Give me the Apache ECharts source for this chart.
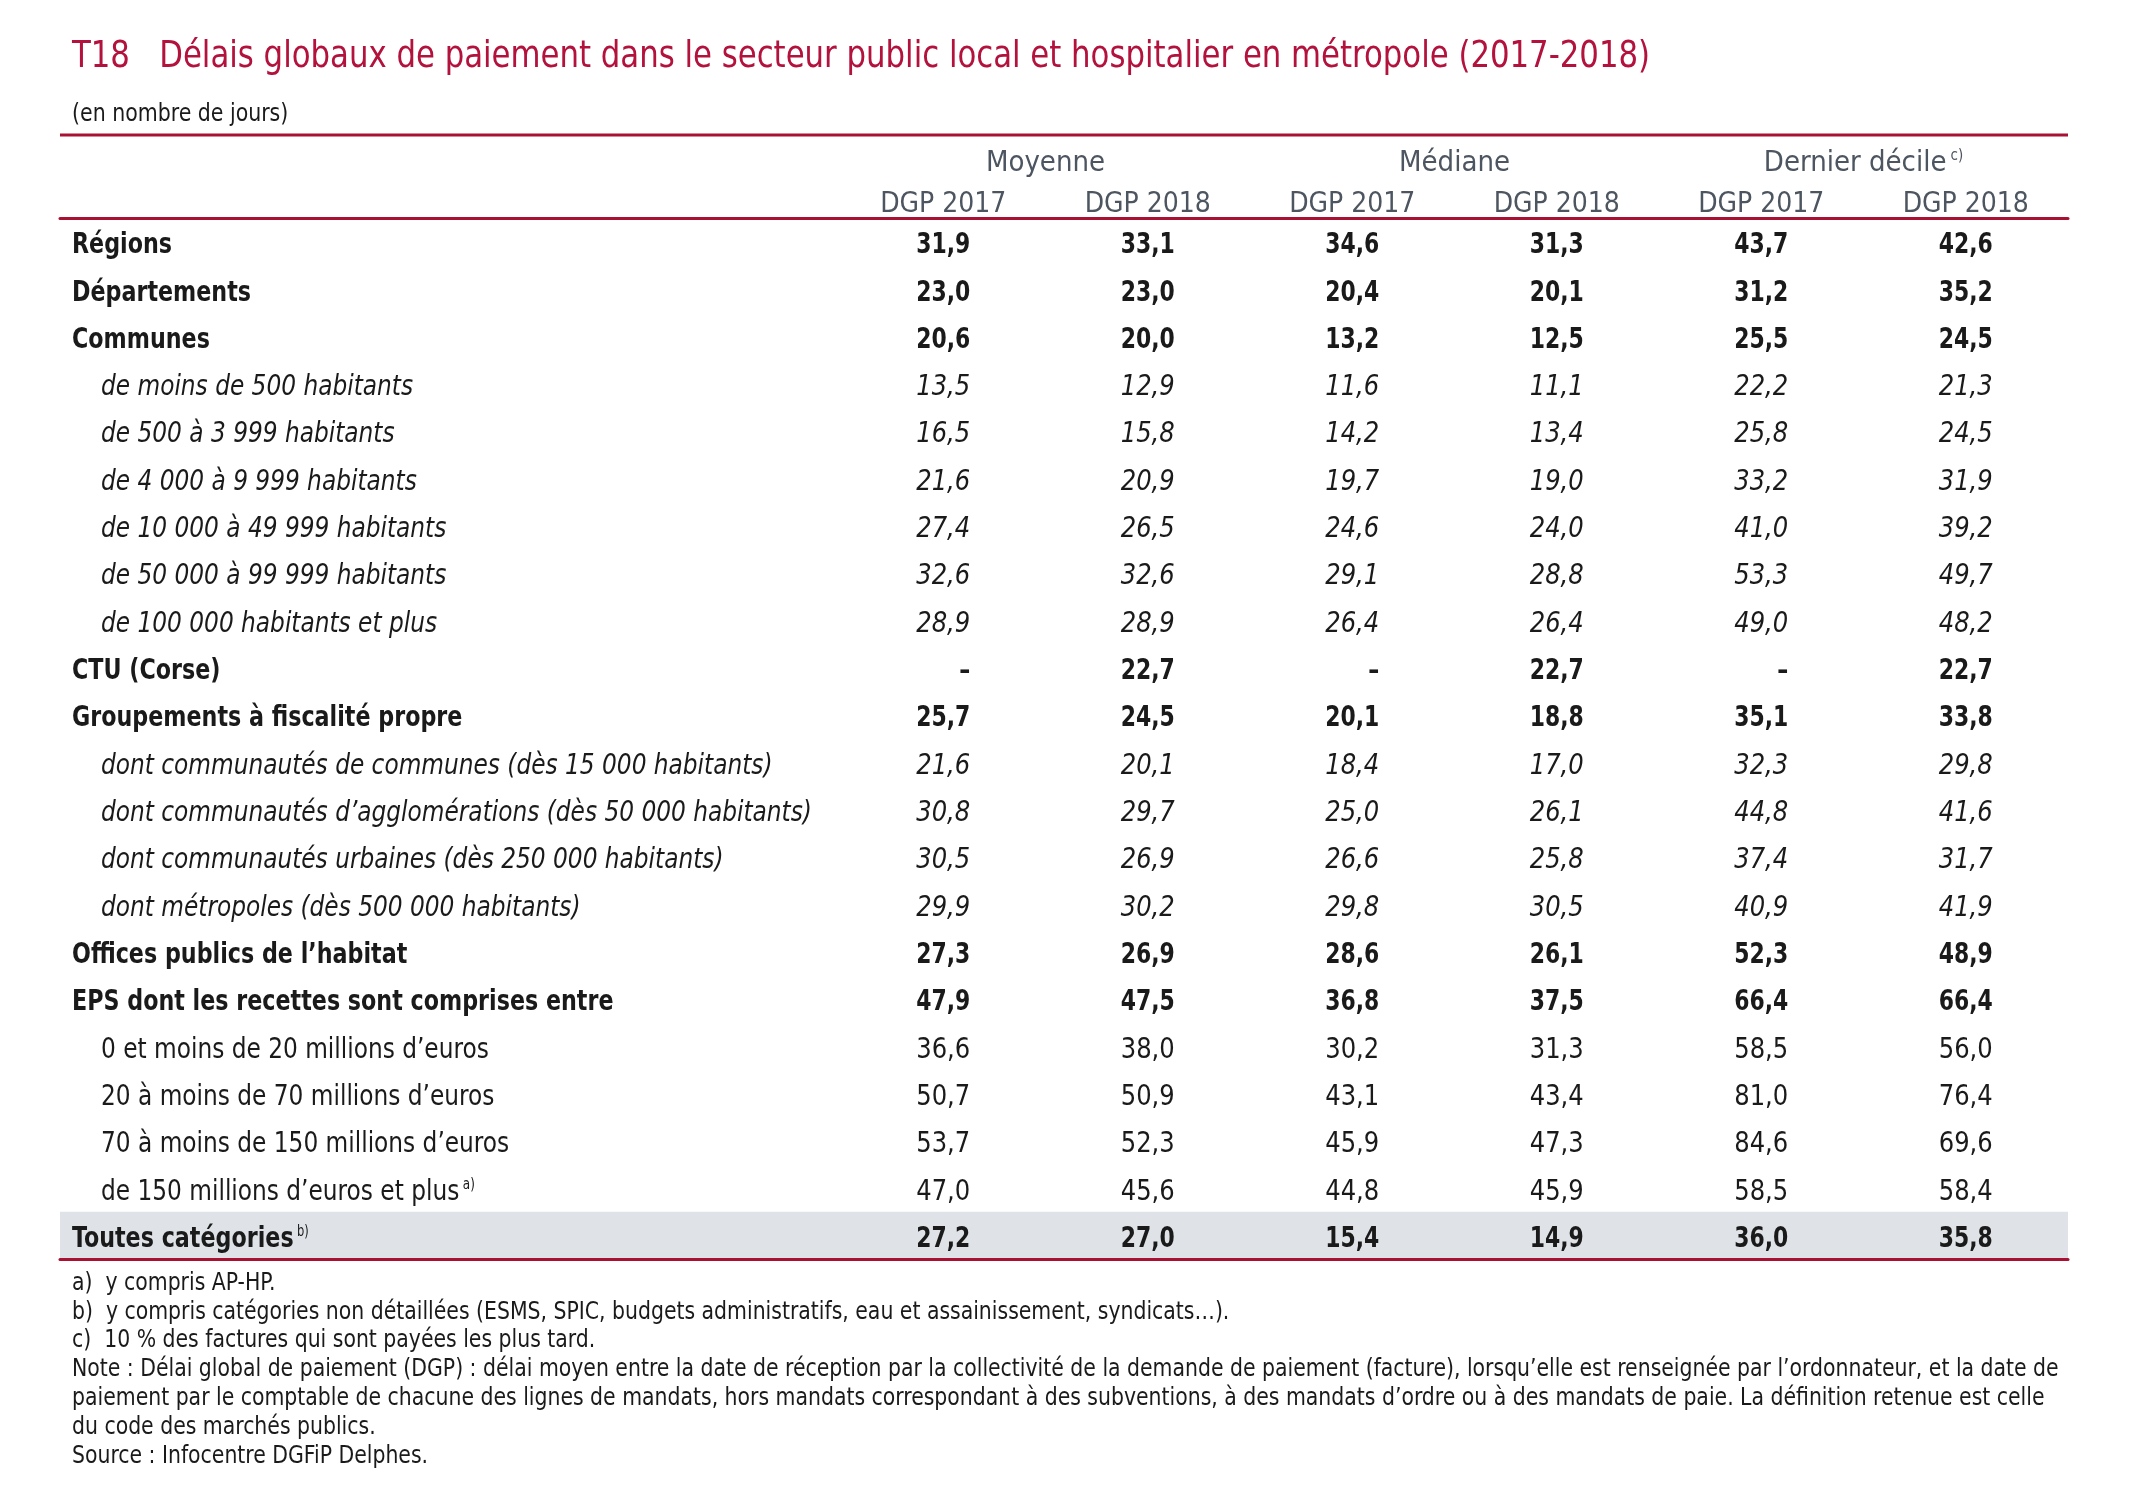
<!DOCTYPE html>
<html><head><meta charset="utf-8">
<script src="https://cdn.jsdelivr.net/npm/echarts@6/dist/echarts.min.js"></script>
<style>html,body{margin:0;padding:0;background:#fff}#c{width:2136px;height:1501px}</style>
</head><body><div id="c"></div>
<script>
// ---------- DATA ----------
const rowLabels = [
  'Régions', 'Départements', 'Communes',
  'de moins de 500 habitants', 'de 500 à 3 999 habitants', 'de 4 000 à 9 999 habitants',
  'de 10 000 à 49 999 habitants', 'de 50 000 à 99 999 habitants', 'de 100 000 habitants et plus',
  'CTU (Corse)', 'Groupements à fiscalité propre',
  'dont communautés de communes (dès 15 000 habitants)',
  'dont communautés d’agglomérations (dès 50 000 habitants)',
  'dont communautés urbaines (dès 250 000 habitants)',
  'dont métropoles (dès 500 000 habitants)',
  'Offices publics de l’habitat', 'EPS dont les recettes sont comprises entre',
  '0 et moins de 20 millions d’euros', '20 à moins de 70 millions d’euros',
  '70 à moins de 150 millions d’euros', 'de 150 millions d’euros et plus',
  'Toutes catégories'
];
const rowStyles = ['b','b','b','i','i','i','i','i','i','b','b','i','i','i','i','b','b','n','n','n','n','b'];
const rowNotes = ['','','','','','','','','','','','','','','','','','','','','a)','b)'];
const totalRow = 'Toutes catégories';

const moyenne2017 = [31.9, 23.0, 20.6, 13.5, 16.5, 21.6, 27.4, 32.6, 28.9, null, 25.7, 21.6, 30.8, 30.5, 29.9, 27.3, 47.9, 36.6, 50.7, 53.7, 47.0, 27.2];
const moyenne2018 = [33.1, 23.0, 20.0, 12.9, 15.8, 20.9, 26.5, 32.6, 28.9, 22.7, 24.5, 20.1, 29.7, 26.9, 30.2, 26.9, 47.5, 38.0, 50.9, 52.3, 45.6, 27.0];
const mediane2017 = [34.6, 20.4, 13.2, 11.6, 14.2, 19.7, 24.6, 29.1, 26.4, null, 20.1, 18.4, 25.0, 26.6, 29.8, 28.6, 36.8, 30.2, 43.1, 45.9, 44.8, 15.4];
const mediane2018 = [31.3, 20.1, 12.5, 11.1, 13.4, 19.0, 24.0, 28.8, 26.4, 22.7, 18.8, 17.0, 26.1, 25.8, 30.5, 26.1, 37.5, 31.3, 43.4, 47.3, 45.9, 14.9];
const decile2017  = [43.7, 31.2, 25.5, 22.2, 25.8, 33.2, 41.0, 53.3, 49.0, null, 35.1, 32.3, 44.8, 37.4, 40.9, 52.3, 66.4, 58.5, 81.0, 84.6, 58.5, 36.0];
const decile2018  = [42.6, 35.2, 24.5, 21.3, 24.5, 31.9, 39.2, 49.7, 48.2, 22.7, 33.8, 29.8, 41.6, 31.7, 41.9, 48.9, 66.4, 56.0, 76.4, 69.6, 58.4, 35.8];

const columnKeys = ['moy2017','moy2018','med2017','med2018','dec2017','dec2018'];
const columnLabels = ['DGP 2017','DGP 2018','DGP 2017','DGP 2018','DGP 2017','DGP 2018'];
const groupLabels = ['Moyenne', 'Médiane', 'Dernier décile'];
const groupNotes = ['', '', 'c)'];

const titleText = 'T18   Délais globaux de paiement dans le secteur public local et hospitalier en métropole (2017-2018)';
const unitText = '(en nombre de jours)';
const footnotes = [
  'a)  y compris AP-HP.',
  'b)  y compris catégories non détaillées (ESMS, SPIC, budgets administratifs, eau et assainissement, syndicats…).',
  'c)  10 % des factures qui sont payées les plus tard.',
  'Note : Délai global de paiement (DGP) : délai moyen entre la date de réception par la collectivité de la demande de paiement (facture), lorsqu’elle est renseignée par l’ordonnateur, et la date de',
  'paiement par le comptable de chacune des lignes de mandats, hors mandats correspondant à des subventions, à des mandats d’ordre ou à des mandats de paie. La définition retenue est celle',
  'du code des marchés publics.',
  'Source : Infocentre DGFiP Delphes.'
];
const columns = [moyenne2017, moyenne2018, mediane2017, mediane2018, decile2017, decile2018];

// ---------- STYLE ----------
const FONT = "'DejaVu Sans Condensed','Liberation Sans',sans-serif";
const TXT = '#1a1a1a';
const HEAD = '#4d5660';
const RED = '#a81131';
const TITLE_RED = '#b3123d';
const BAND = '#dfe3e7';
const FS = 29;
const LABEL_SCALE = { b: 0.852, i: 0.892, n: 0.892 };
const VALUE_SCALE = { b: 0.84, i: 0.93, n: 0.93 };
const Y_SHIFT = 4;

const rich = {
  b: { fontFamily: FONT, fontSize: FS, fontWeight: 'bold', fill: TXT, color: TXT },
  i: { fontFamily: FONT, fontSize: FS, fontStyle: 'italic', fill: TXT, color: TXT },
  n: { fontFamily: FONT, fontSize: FS, fill: TXT, color: TXT },
  sup: { fontFamily: FONT, fontSize: 15, fill: TXT, color: TXT, verticalAlign: 'top', padding: [0, 0, 14, 4] },
  hsup: { fontFamily: FONT, fontSize: 15, color: HEAD, verticalAlign: 'top', padding: [0, 0, 14, 4] }
};

function fmt(v) { return v == null ? '–' : v.toFixed(1).replace('.', ','); }

// cells: [columnIndex, rowIndex]
const cellData = [];
columns.forEach((col, j) => col.forEach((v, i) => cellData.push([j, i])));

const chart = echarts.init(document.getElementById('c'), null, { renderer: 'canvas' });
chart.setOption({
  backgroundColor: '#ffffff',
  animation: false,
  textStyle: { fontFamily: FONT },
  grid: [
    { left: 60, right: 68, top: 218, bottom: 242 },
    { left: 841, right: 68, top: 218, bottom: 242 }
  ],
  xAxis: [
    { gridIndex: 0, type: 'value', min: 0, max: 1, position: 'bottom', z: 10,
      axisLine: { show: true, lineStyle: { color: RED, width: 3 } },
      axisTick: { show: false }, axisLabel: { show: false }, splitLine: { show: false } },
    { gridIndex: 0, type: 'value', min: 0, max: 1, position: 'top', z: 10,
      axisLine: { show: true, lineStyle: { color: RED, width: 3 } },
      axisTick: { show: false }, axisLabel: { show: false }, splitLine: { show: false } },
    { gridIndex: 1, type: 'category', data: columnKeys, position: 'top',
      axisLine: { show: false }, axisTick: { show: false }, splitLine: { show: false },
      axisLabel: { interval: 0, margin: -1, fontFamily: FONT, fontSize: 28, color: HEAD,
        formatter: (v, idx) => columnLabels[idx] } },
    { gridIndex: 1, type: 'category', data: groupLabels, position: 'top', offset: 41,
      axisLine: { show: false }, axisTick: { show: false }, splitLine: { show: false },
      axisLabel: { interval: 0, margin: -1, fontFamily: FONT, fontSize: FS, color: HEAD,
        formatter: (v, idx) => groupNotes[idx] ? v + '{hsup|' + groupNotes[idx] + '}' : v,
        rich: rich } }
  ],
  yAxis: [
    { gridIndex: 0, type: 'category', data: rowLabels, inverse: true, show: false },
    { gridIndex: 1, type: 'category', data: rowLabels, inverse: true, show: false }
  ],
  series: [
    { type: 'bar', xAxisIndex: 0, yAxisIndex: 0, silent: true, z: 1,
      barCategoryGap: '0%',
      itemStyle: { color: BAND },
      data: rowLabels.map(r => r === totalRow ? 1 : 0) },
    { type: 'custom', xAxisIndex: 0, yAxisIndex: 0, silent: true, z: 5,
      data: rowLabels.map((r, i) => [0, i]),
      renderItem: (params, api) => {
        const i = params.dataIndex;
        const p = api.coord([0, i]);
        const s = rowStyles[i];
        const txt = '{' + s + '|' + rowLabels[i] + '}' + (rowNotes[i] ? '{sup|' + rowNotes[i] + '}' : '');
        return { type: 'text', x: p[0] + (s === 'b' ? 12 : 41), y: p[1] + Y_SHIFT,
          scaleX: LABEL_SCALE[s],
          style: { text: txt, rich: rich, align: 'left', verticalAlign: 'middle' } };
      } },
    { type: 'custom', xAxisIndex: 2, yAxisIndex: 1, silent: true, z: 5,
      data: cellData,
      renderItem: (params, api) => {
        const d = cellData[params.dataIndex];
        const j = d[0], i = d[1];
        const p = api.coord([j, i]);
        const s = rowStyles[i];
        return { type: 'text', x: p[0] + 27, y: p[1] + Y_SHIFT,
          scaleX: VALUE_SCALE[s],
          style: { text: '{' + s + '|' + fmt(columns[j][i]) + '}', rich: rich, align: 'right', verticalAlign: 'middle' } };
      } }
  ],
  graphic: [
    { type: 'text', x: 72, y: 57, scaleX: 0.9, silent: true,
      style: { text: titleText, fontFamily: FONT, fontSize: 38, fill: TITLE_RED, verticalAlign: 'middle' } },
    { type: 'text', x: 72, y: 115, scaleX: 0.95, silent: true,
      style: { text: unitText, fontFamily: FONT, fontSize: 24, fill: TXT, verticalAlign: 'middle' } },
    { type: 'rect', x: 60, y: 133.5, shape: { width: 2008, height: 3 }, style: { fill: RED }, silent: true },
    { type: 'text', x: 72, y: 1269, scaleX: 0.946, silent: true,
      style: { text: footnotes.join('\n'), fontFamily: FONT, fontSize: 24, lineHeight: 28.9, fill: TXT, verticalAlign: 'top' } }
  ]
});
</script>
</body></html>
